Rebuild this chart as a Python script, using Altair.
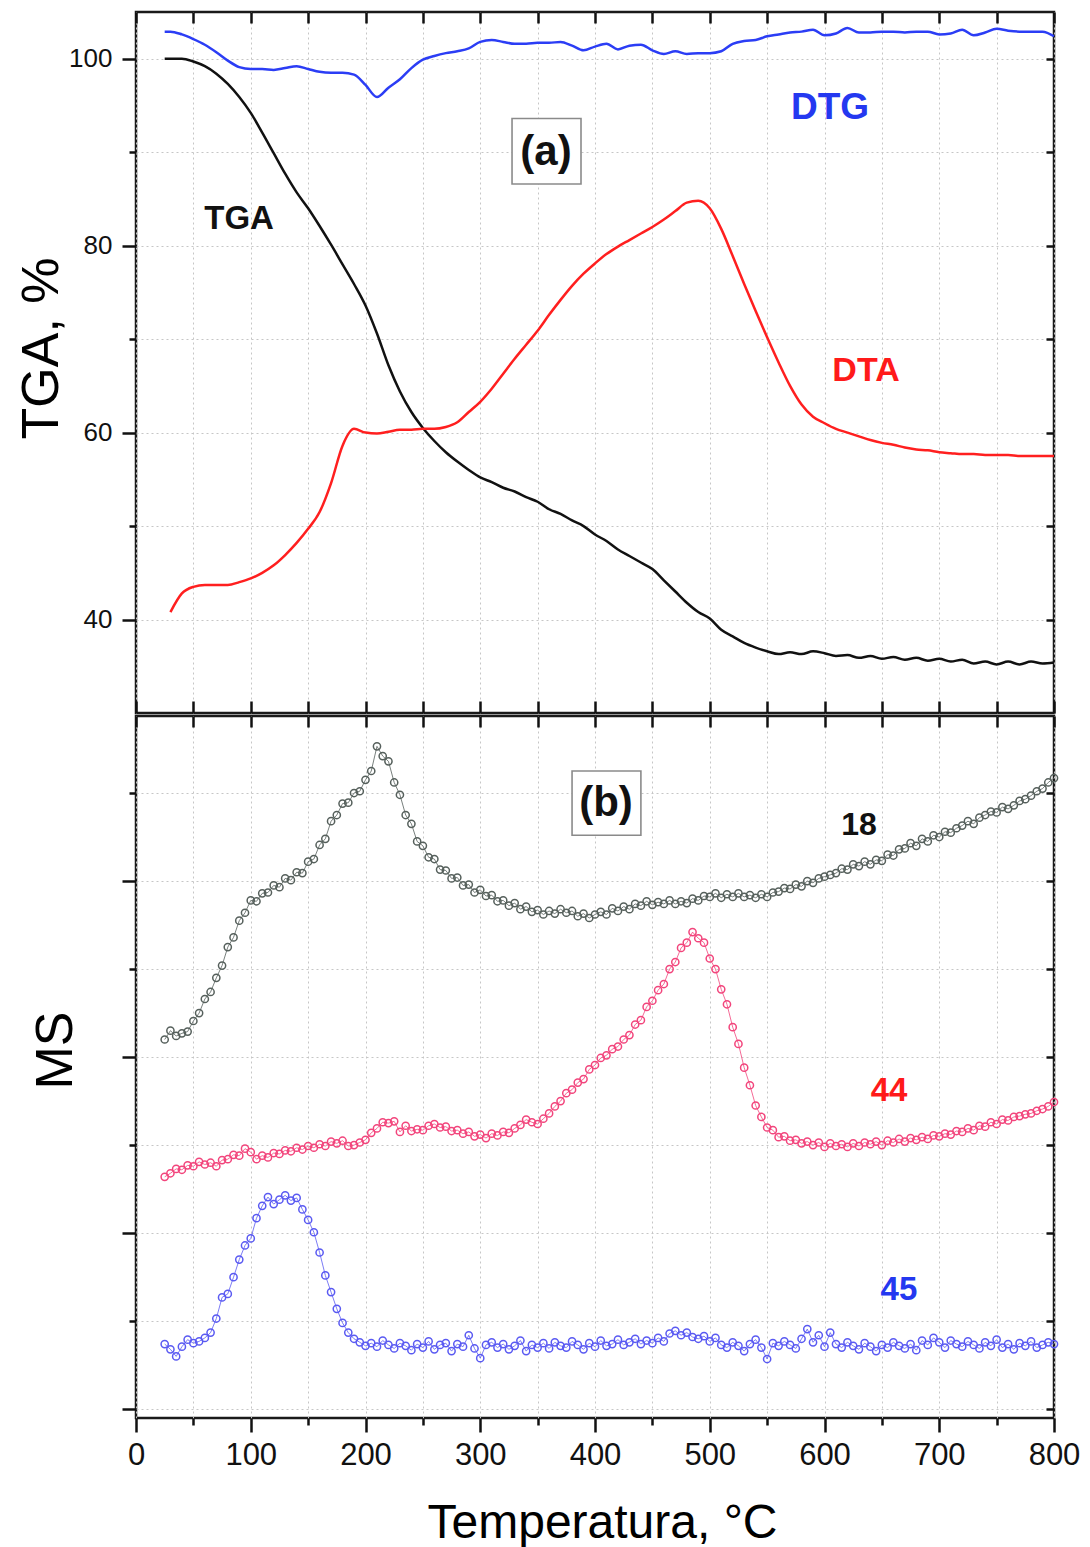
import altair as alt
import pandas as pd

# ---------------- data ----------------
# panel (a): TGA, DTG, DTA  (y axis "TGA, %")
TGA_T = [25] + list(range(30, 801, 10))
TGA_V = [100.0, 100.0, 100.0, 99.7, 99.2, 98.4, 97.3, 95.9, 94.2, 92.1,
         89.9, 87.7, 85.7, 84.0, 82.1, 80.1, 78.0, 75.9, 73.6, 70.6,
         67.2, 64.4, 62.2, 60.5, 59.1, 57.9, 56.9, 56.0, 55.2, 54.7,
         54.1, 53.7, 53.1, 52.6, 51.8, 51.3, 50.6, 50.0, 49.1, 48.4,
         47.5, 46.8, 46.1, 45.4, 44.2, 43.0, 41.8, 40.8, 40.1, 38.9,
         38.2, 37.5, 37.0, 36.6, 36.3, 36.5, 36.3, 36.6, 36.4, 36.1,
         36.2, 35.9, 36.1, 35.8, 36.0, 35.7, 35.9, 35.6, 35.8, 35.5,
         35.7, 35.3, 35.5, 35.2, 35.5, 35.2, 35.5, 35.3, 35.4]
DTG_V = [102.9, 102.9, 102.6, 102.1, 101.5, 100.7, 99.8, 99.1, 98.9, 98.9,
         98.8, 99.0, 99.2, 98.9, 98.6, 98.5, 98.5, 98.3, 97.2, 95.9,
         96.9, 97.8, 99.0, 99.9, 100.3, 100.6, 100.8, 101.1, 101.8, 102.0,
         101.8, 101.6, 101.6, 101.7, 101.7, 101.8, 101.4, 100.9, 101.3, 101.6,
         101.0, 101.4, 101.5, 100.9, 100.5, 100.8, 100.5, 100.6, 100.6, 100.8,
         101.6, 101.9, 102.0, 102.4, 102.6, 102.8, 102.9, 103.1, 102.5, 102.7,
         103.3, 102.8, 102.8, 102.9, 102.9, 102.8, 102.9, 102.9, 102.6, 102.7,
         103.1, 102.5, 102.8, 103.2, 103.0, 102.9, 102.9, 102.9, 102.4]
DTA_T = list(range(30, 801, 10))
DTA_V = [40.8, 42.8, 43.5, 43.7, 43.7, 43.7, 44.0, 44.4, 45.0, 45.8,
         46.9, 48.2, 49.7, 51.5, 54.6, 58.6, 60.4, 60.0, 59.9, 60.1,
         60.3, 60.3, 60.4, 60.4, 60.6, 61.1, 62.2, 63.3, 64.7, 66.3,
         67.9, 69.4, 70.9, 72.6, 74.2, 75.7, 77.0, 78.1, 79.1, 79.9,
         80.6, 81.3, 82.0, 82.8, 83.7, 84.6, 84.8, 84.0, 81.8, 78.9,
         75.9, 73.0, 70.2, 67.5, 65.0, 63.0, 61.7, 61.0, 60.4, 60.0,
         59.6, 59.2, 58.9, 58.7, 58.4, 58.2, 58.1, 57.9, 57.8, 57.7,
         57.7, 57.6, 57.6, 57.6, 57.5, 57.5, 57.5, 57.5]

# panel (b): MS signals m/z 18, 44, 45 (arbitrary units)
MS_T = list(range(25, 801, 5))
MS18 = [4.20, 4.30, 4.24, 4.27, 4.29, 4.41, 4.50, 4.66, 4.74, 4.90,
        5.04, 5.25, 5.36, 5.55, 5.64, 5.78, 5.77, 5.86, 5.87, 5.95,
        5.93, 6.03, 6.01, 6.10, 6.09, 6.22, 6.25, 6.41, 6.48, 6.68,
        6.75, 6.88, 6.89, 7.00, 7.02, 7.15, 7.25, 7.53, 7.42, 7.36,
        7.12, 6.98, 6.75, 6.65, 6.45, 6.40, 6.27, 6.25, 6.13, 6.12,
        6.03, 6.04, 5.95, 5.96, 5.87, 5.90, 5.83, 5.84, 5.77, 5.78,
        5.72, 5.75, 5.68, 5.71, 5.65, 5.67, 5.62, 5.66, 5.63, 5.68,
        5.64, 5.66, 5.60, 5.63, 5.58, 5.62, 5.65, 5.62, 5.69, 5.66,
        5.71, 5.68, 5.74, 5.72, 5.77, 5.73, 5.76, 5.74, 5.78, 5.74,
        5.77, 5.75, 5.80, 5.78, 5.83, 5.82, 5.86, 5.81, 5.85, 5.82,
        5.86, 5.82, 5.84, 5.81, 5.85, 5.82, 5.87, 5.88, 5.92, 5.91,
        5.96, 5.94, 6.00, 5.98, 6.03, 6.05, 6.07, 6.09, 6.14, 6.13,
        6.19, 6.17, 6.22, 6.19, 6.24, 6.23, 6.30, 6.29, 6.36, 6.37,
        6.43, 6.40, 6.48, 6.45, 6.52, 6.50, 6.56, 6.55, 6.60, 6.63,
        6.68, 6.65, 6.72, 6.75, 6.79, 6.78, 6.84, 6.82, 6.86, 6.91,
        6.93, 6.97, 7.02, 7.05, 7.12, 7.17]
MS44 = [2.64, 2.68, 2.73, 2.72, 2.77, 2.76, 2.81, 2.78, 2.80, 2.76,
        2.83, 2.84, 2.89, 2.88, 2.96, 2.92, 2.84, 2.88, 2.86, 2.91,
        2.90, 2.94, 2.93, 2.97, 2.95, 2.99, 2.97, 3.01, 2.99, 3.04,
        3.02, 3.05, 2.99, 3.00, 3.03, 3.06, 3.14, 3.19, 3.26, 3.25,
        3.27, 3.15, 3.22, 3.16, 3.18, 3.17, 3.22, 3.24, 3.20, 3.21,
        3.16, 3.17, 3.13, 3.15, 3.10, 3.12, 3.08, 3.13, 3.11, 3.15,
        3.14, 3.19, 3.23, 3.29, 3.26, 3.24, 3.30, 3.36, 3.44, 3.50,
        3.59, 3.63, 3.71, 3.75, 3.86, 3.91, 3.99, 4.02, 4.09, 4.12,
        4.20, 4.25, 4.37, 4.42, 4.57, 4.64, 4.76, 4.83, 5.00, 5.08,
        5.24, 5.30, 5.42, 5.35, 5.30, 5.12, 5.00, 4.77, 4.60, 4.34,
        4.15, 3.88, 3.68, 3.45, 3.32, 3.20, 3.17, 3.09, 3.10, 3.05,
        3.06, 3.02, 3.04, 3.00, 3.03, 2.98, 3.02, 2.99, 3.01, 2.98,
        3.02, 2.99, 3.03, 3.01, 3.04, 3.00, 3.05, 3.03, 3.07, 3.04,
        3.08, 3.06, 3.09, 3.07, 3.11, 3.10, 3.13, 3.12, 3.16, 3.15,
        3.19, 3.17, 3.22, 3.21, 3.26, 3.24, 3.29, 3.28, 3.32, 3.33,
        3.35, 3.36, 3.39, 3.41, 3.44, 3.49]
MS45 = [0.74, 0.68, 0.60, 0.71, 0.79, 0.75, 0.77, 0.81, 0.87, 1.03,
        1.27, 1.31, 1.50, 1.70, 1.86, 1.94, 2.17, 2.31, 2.41, 2.33,
        2.38, 2.43, 2.37, 2.40, 2.27, 2.15, 2.01, 1.78, 1.52, 1.33,
        1.14, 0.98, 0.87, 0.80, 0.76, 0.72, 0.75, 0.71, 0.78, 0.73,
        0.69, 0.75, 0.72, 0.67, 0.74, 0.70, 0.77, 0.68, 0.73, 0.75,
        0.66, 0.74, 0.71, 0.84, 0.69, 0.58, 0.73, 0.76, 0.70, 0.74,
        0.68, 0.72, 0.78, 0.66, 0.73, 0.70, 0.75, 0.69, 0.76, 0.72,
        0.70, 0.77, 0.73, 0.68, 0.75, 0.71, 0.78, 0.72, 0.74, 0.79,
        0.73, 0.76, 0.80, 0.74, 0.78, 0.75, 0.81, 0.77, 0.86, 0.89,
        0.84, 0.87, 0.82, 0.80, 0.83, 0.77, 0.81, 0.73, 0.70, 0.76,
        0.72, 0.66, 0.74, 0.79, 0.70, 0.57, 0.75, 0.72, 0.77, 0.73,
        0.69, 0.80, 0.91, 0.76, 0.84, 0.71, 0.87, 0.74, 0.70, 0.76,
        0.72, 0.68, 0.75, 0.71, 0.66, 0.73, 0.70, 0.76, 0.72, 0.69,
        0.74, 0.67, 0.78, 0.73, 0.81, 0.76, 0.70, 0.78, 0.74, 0.71,
        0.77, 0.73, 0.69, 0.76, 0.72, 0.79, 0.70, 0.74, 0.68, 0.75,
        0.72, 0.77, 0.70, 0.73, 0.76, 0.74]

assert len(TGA_T) == len(TGA_V) == len(DTG_V)
assert len(DTA_T) == len(DTA_V)
assert len(MS_T) == len(MS18) == len(MS44) == len(MS45)

# annotations (data coordinates)
A_TEXT = ["TGA", "DTG", "DTA"]
A_X = [89.8, 604.8, 636.2]
A_Y = [82.8, 94.7, 66.6]
A_COL = ["#111111", "#2438f0", "#ff1a1a"]
A_SIZE = [33, 37, 34]

B_TEXT = ["18", "44", "45"]
B_X = [630.1, 656.2, 664.9]
B_Y = [6.64, 3.61, 1.35]
B_COL = ["#111111", "#ff1a1a", "#2438f0"]
B_SIZE = [32, 33, 33]

PANEL_TAG = ["(a)", "(b)"]
TAG_X = [357.3, 409.6]
TAG_Y = [90.0, 6.89]
BOX_X1 = [327.7, 380.0]
BOX_X2 = [387.8, 440.0]
BOX_Y1 = [86.6, 6.52]
BOX_Y2 = [93.6, 7.25]

X_TICKS = list(range(0, 801, 50))
YA_TICKS = [40, 50, 60, 70, 80, 90, 100]
YB_TICKS = [0, 1, 2, 3, 4, 5, 6, 7]

SERIES = ["TGA", "DTG", "DTA", "18", "44", "45"]
SERIES_COL = ["#111111", "#2b3df5", "#ff1f1f", "#56605c", "#f2457c", "#5a5af2"]

# ---------------- frames ----------------
top_df = pd.concat([
    pd.DataFrame({"T": TGA_T, "v": TGA_V, "s": "TGA"}),
    pd.DataFrame({"T": TGA_T, "v": DTG_V, "s": "DTG"}),
    pd.DataFrame({"T": DTA_T, "v": DTA_V, "s": "DTA"}),
], ignore_index=True)
ms_df = pd.concat([
    pd.DataFrame({"T": MS_T, "v": MS18, "s": "18"}),
    pd.DataFrame({"T": MS_T, "v": MS44, "s": "44"}),
    pd.DataFrame({"T": MS_T, "v": MS45, "s": "45"}),
], ignore_index=True)
ann_a = pd.DataFrame({"t": A_TEXT, "x": A_X, "y": A_Y, "c": A_COL, "fs": A_SIZE})
ann_b = pd.DataFrame({"t": B_TEXT, "x": B_X, "y": B_Y, "c": B_COL, "fs": B_SIZE})
tag_a = pd.DataFrame({"t": [PANEL_TAG[0]], "x": [TAG_X[0]], "y": [TAG_Y[0]],
                      "x1": [BOX_X1[0]], "x2": [BOX_X2[0]], "y1": [BOX_Y1[0]], "y2": [BOX_Y2[0]]})
tag_b = pd.DataFrame({"t": [PANEL_TAG[1]], "x": [TAG_X[1]], "y": [TAG_Y[1]],
                      "x1": [BOX_X1[1]], "x2": [BOX_X2[1]], "y1": [BOX_Y1[1]], "y2": [BOX_Y2[1]]})

W = 918
H_TOP = 701
H_BOT = 702
XS = alt.Scale(domain=[0, 800], nice=False, zero=False)
YAS = alt.Scale(domain=[30, 105], nice=False, zero=False)
YBS = alt.Scale(domain=[-0.1, 7.875], nice=False, zero=False)
CS = alt.Scale(domain=SERIES, range=SERIES_COL)

TICK = dict(tickColor="#111111", tickWidth=2.5, domain=False)
GRID = dict(gridColor="#c6c6c6", gridDash=[2, 3], gridWidth=1)
LAB = "Liberation Sans"

def inward(orient, values, size):
    return alt.Axis(orient=orient, values=values, tickSize=size, offset=-size,
                    labels=False, grid=False, title=None, **TICK)

# ---------------- panel (a) ----------------
ax_x_grid = alt.Axis(orient="bottom", values=X_TICKS, grid=True, ticks=False,
                     labels=False, domain=False, title=None, **GRID)
ax_ya_left = alt.Axis(
    orient="left", values=YA_TICKS, grid=True, **GRID, **TICK,
    tickSize={"condition": {"test": "datum.value % 20 === 0", "value": 14}, "value": 7},
    labelExpr="datum.value % 20 === 0 ? datum.label : ''",
    labelFont=LAB, labelFontSize=26, labelColor="#111111", labelPadding=10,
    labelOverlap=False,
    title="TGA, %", titleFont=LAB, titleFontSize=52, titleFontWeight="normal",
    titleColor="#000000", titleX=-68, titleY=336)

top_lines = alt.Chart(top_df).mark_line(strokeWidth=2.5, interpolate="monotone").encode(
    x=alt.X("T:Q", scale=XS, axis=ax_x_grid),
    y=alt.Y("v:Q", scale=YAS, axis=ax_ya_left),
    color=alt.Color("s:N", scale=CS, legend=None),
    detail="s:N",
)
top_ax2 = alt.Chart(top_df).mark_line(opacity=0).encode(
    x=alt.X("T:Q", scale=XS, axis=inward("bottom", X_TICKS, 12)),
    y=alt.Y("v:Q", scale=YAS, axis=inward("right", YA_TICKS, 8)),
    detail="s:N",
)
top_ax3 = alt.Chart(top_df).mark_line(opacity=0).encode(
    x=alt.X("T:Q", scale=XS, axis=inward("top", X_TICKS, 11)),
    y=alt.Y("v:Q", scale=YAS, axis=None),
    detail="s:N",
)
top_text = alt.Chart(ann_a).mark_text(font=LAB, fontWeight="bold", baseline="middle",
                                      align="center").encode(
    x=alt.X("x:Q", scale=XS, axis=None),
    y=alt.Y("y:Q", scale=YAS, axis=None),
    text="t:N",
    color=alt.Color("c:N", scale=None),
    size=alt.Size("fs:Q", scale=None),
)
top_box = alt.Chart(tag_a).mark_rect(fill="white", stroke="#8a8a8a", strokeWidth=1.6).encode(
    x=alt.X("x1:Q", scale=XS, axis=None), x2="x2:Q",
    y=alt.Y("y1:Q", scale=YAS, axis=None), y2="y2:Q",
)
top_tag = alt.Chart(tag_a).mark_text(font=LAB, fontWeight="bold", fontSize=42,
                                     baseline="middle", align="center", color="#111111").encode(
    x=alt.X("x:Q", scale=XS, axis=None),
    y=alt.Y("y:Q", scale=YAS, axis=None),
    text="t:N",
)
top = alt.layer(top_lines, top_ax2, top_ax3, top_text, top_box, top_tag).resolve_axis(
    x="independent", y="independent").properties(width=W, height=H_TOP)

# ---------------- panel (b) ----------------
ax_xb = alt.Axis(
    orient="bottom", values=X_TICKS, grid=True, **GRID, **TICK,
    tickSize={"condition": {"test": "datum.value % 100 === 0", "value": 14}, "value": 7},
    labelExpr="datum.value % 100 === 0 ? datum.label : ''",
    labelFont=LAB, labelFontSize=31, labelColor="#111111", labelPadding=8,
    labelFlush=False, labelOverlap=False,
    title="Temperatura, °C", titleFont=LAB, titleFontSize=48, titleFontWeight="normal",
    titleColor="#000000", titleBaseline="alphabetic", titleX=466, titleY=119)
ax_yb_left = alt.Axis(
    orient="left", values=YB_TICKS, grid=True, **GRID, **TICK,
    tickSize={"condition": {"test": "datum.value % 2 === 0", "value": 14}, "value": 7},
    labels=False,
    title="MS", titleFont=LAB, titleFontSize=52, titleFontWeight="normal",
    titleColor="#000000", titleX=-54, titleY=334)

ms_lines = alt.Chart(ms_df).mark_line(
    strokeWidth=0.8,
    point=alt.OverlayMarkDef(filled=False, shape="circle", size=52, strokeWidth=1.5),
).encode(
    x=alt.X("T:Q", scale=XS, axis=ax_xb),
    y=alt.Y("v:Q", scale=YBS, axis=ax_yb_left),
    color=alt.Color("s:N", scale=CS, legend=None),
    detail="s:N",
)
ms_ax2 = alt.Chart(ms_df).mark_line(opacity=0).encode(
    x=alt.X("T:Q", scale=XS, axis=inward("top", X_TICKS, 11)),
    y=alt.Y("v:Q", scale=YBS, axis=inward("right", YB_TICKS, 8)),
    detail="s:N",
)
ms_text = alt.Chart(ann_b).mark_text(font=LAB, fontWeight="bold", baseline="middle",
                                     align="center").encode(
    x=alt.X("x:Q", scale=XS, axis=None),
    y=alt.Y("y:Q", scale=YBS, axis=None),
    text="t:N",
    color=alt.Color("c:N", scale=None),
    size=alt.Size("fs:Q", scale=None),
)
ms_box = alt.Chart(tag_b).mark_rect(fill="white", stroke="#8a8a8a", strokeWidth=1.6).encode(
    x=alt.X("x1:Q", scale=XS, axis=None), x2="x2:Q",
    y=alt.Y("y1:Q", scale=YBS, axis=None), y2="y2:Q",
)
ms_tag = alt.Chart(tag_b).mark_text(font=LAB, fontWeight="bold", fontSize=42,
                                    baseline="middle", align="center", color="#111111").encode(
    x=alt.X("x:Q", scale=XS, axis=None),
    y=alt.Y("y:Q", scale=YBS, axis=None),
    text="t:N",
)
bottom = alt.layer(ms_lines, ms_ax2, ms_text, ms_box, ms_tag).resolve_axis(
    x="independent", y="independent").properties(width=W, height=H_BOT)

chart = alt.vconcat(top, bottom, spacing=-4.5).resolve_scale(color="independent").properties(
    padding={"left": 5, "top": 1, "right": 0, "bottom": 0},
    background="white",
).configure_view(stroke="#1a1a1a", strokeWidth=2.5)

chart.save("out.html", embed_options={"renderer": "svg", "actions": False})
